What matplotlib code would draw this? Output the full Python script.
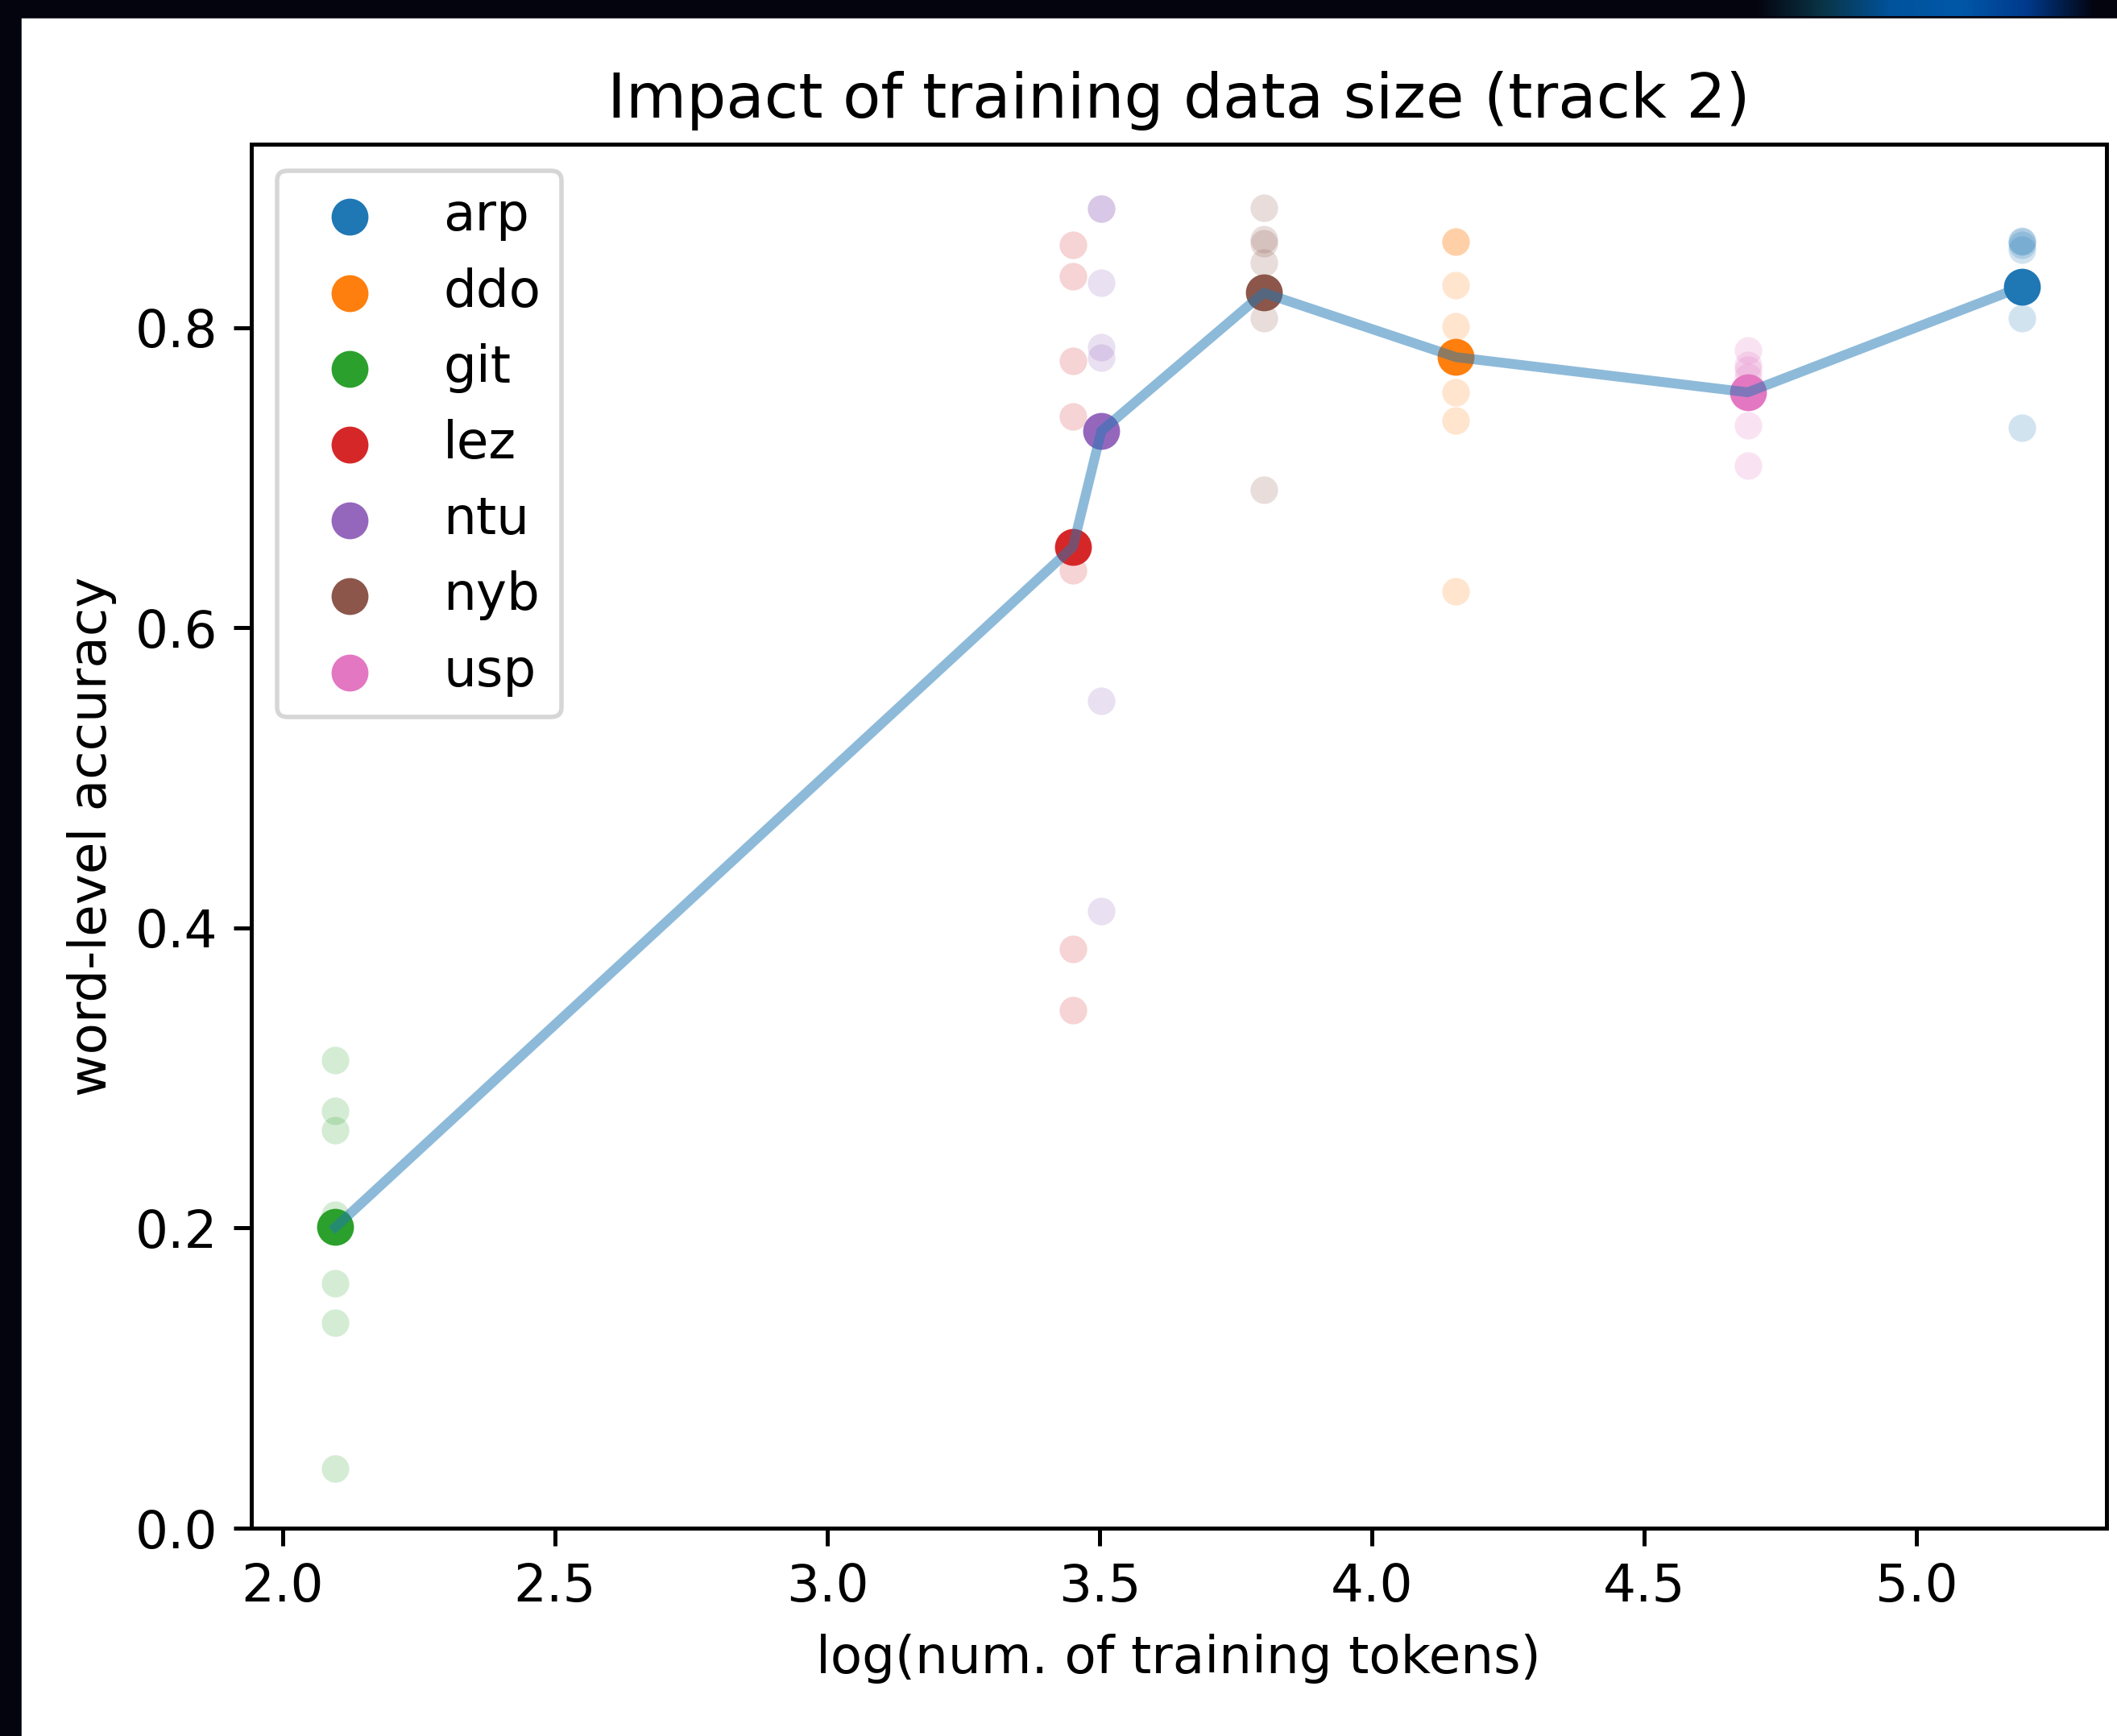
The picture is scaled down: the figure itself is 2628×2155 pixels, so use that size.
import numpy as np
import matplotlib
matplotlib.use('Agg')
import matplotlib.pyplot as plt
from matplotlib.patches import Rectangle
from matplotlib.colors import LinearSegmentedColormap

# teams and their log(training tokens)
teams = ['arp', 'ddo', 'git', 'lez', 'ntu', 'nyb', 'usp']
log_tokens = [5.193, 4.154, 2.097, 3.451, 3.503, 3.801, 4.690]

# word-level accuracy of each submitted system, per team
acc_arp = [0.858, 0.857, 0.855, 0.852, 0.829, 0.806, 0.733]
acc_ddo = [0.857, 0.857, 0.828, 0.801, 0.757, 0.738, 0.624]
acc_git = [0.312, 0.278, 0.265, 0.209, 0.163, 0.137, 0.040]
acc_lez = [0.855, 0.834, 0.778, 0.741, 0.638, 0.386, 0.345]
acc_ntu = [0.879, 0.879, 0.830, 0.787, 0.780, 0.551, 0.411]
acc_nyb = [0.880, 0.859, 0.856, 0.843, 0.826, 0.806, 0.692]
acc_usp = [0.785, 0.775, 0.772, 0.767, 0.756, 0.735, 0.708]

accuracies = [acc_arp, acc_ddo, acc_git, acc_lez, acc_ntu, acc_nyb, acc_usp]
colors = plt.get_cmap('tab10').colors

plt.rcParams['font.size'] = 11.6

fig = plt.figure(figsize=(6.57, 5.3875), dpi=400)
ax = fig.add_axes([0.1186, 0.1197, 0.9949 - 0.1186, 0.9168 - 0.1197])

means = []
for i, team in enumerate(teams):
    xs = [log_tokens[i]] * len(accuracies[i])
    ax.scatter(xs, accuracies[i], s=38, color=colors[i], alpha=0.2, linewidths=0)
    m = np.mean(accuracies[i])
    means.append(m)
    ax.scatter([log_tokens[i]], [m], s=68, color=colors[i], linewidths=0, label=team)

# line through the team means, sorted by data size
order = np.argsort(log_tokens)
ax.plot(np.array(log_tokens)[order], np.array(means)[order], color='tab:blue', alpha=0.5, lw=2.2)

ax.set_ylim(bottom=0)
ax.tick_params(length=4, width=0.9)
for s in ax.spines.values():
    s.set_linewidth(0.9)
ax.set_xlabel('log(num. of training tokens)', labelpad=5)
ax.set_ylabel('word-level accuracy')
ax.set_title('Impact of training data size (track 2)')
ax.legend(loc='upper left')

# dark window border from the screenshot
W, H = 2628, 2155
fig.patches.append(Rectangle((0, 1 - 20 / H), 1, 20 / H, transform=fig.transFigure,
                             color='#04040f', zorder=10))
fig.patches.append(Rectangle((0, 0), 24 / W, 1, transform=fig.transFigure,
                             color='#04040f', zorder=10))
grad_ax = fig.add_axes([2180 / W, 1 - 20 / H, 420 / W, 20 / H], zorder=11)
cmap = LinearSegmentedColormap.from_list('bar', ['#04040f', '#0a3548', '#00539c', '#0058a8', '#003a8c', '#04040f'])
grad_ax.imshow(np.linspace(0, 1, 256)[None, :], aspect='auto', cmap=cmap)
grad_ax.axis('off')

fig.savefig('out.png', dpi=400)
